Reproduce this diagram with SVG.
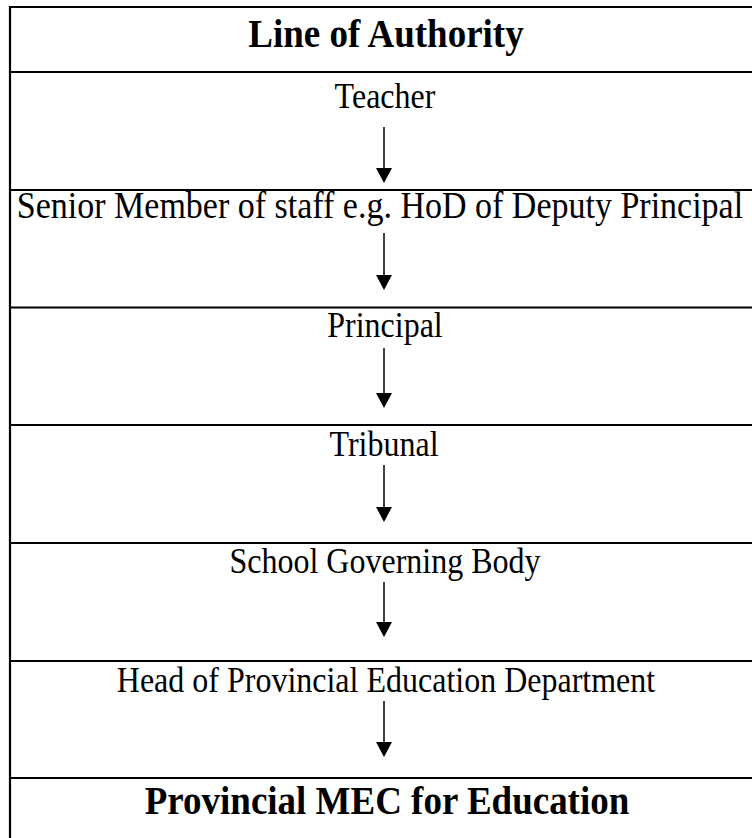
<svg xmlns="http://www.w3.org/2000/svg" width="752" height="838" viewBox="0 0 752 838">
<style>
.t{font-family:"Liberation Serif","Times New Roman",serif;font-size:32px;fill:#000;text-anchor:middle}
.b{font-weight:bold;font-size:37px}
.ln{stroke:#000;stroke-width:2.2;fill:none}
.ar{stroke:#000;stroke-width:1.5;fill:none}
</style>
<rect width="752" height="838" fill="#fff"/>
<g id="grid">
<line class="ln" x1="10" y1="7" x2="752" y2="7"/>
<line class="ln" x1="10" y1="6" x2="10" y2="838"/>
<line class="ln" x1="10" y1="72" x2="752" y2="72"/>
<line class="ln" x1="10" y1="190" x2="752" y2="190"/>
<line class="ln" x1="10" y1="307.5" x2="752" y2="307.5"/>
<line class="ln" x1="10" y1="425" x2="752" y2="425"/>
<line class="ln" x1="10" y1="543" x2="752" y2="543"/>
<line class="ln" x1="10" y1="661" x2="752" y2="661"/>
<line class="ln" x1="10" y1="778" x2="752" y2="778"/>
</g>
<g id="n0"><text class="t b" transform="translate(386,47) scale(1,1.1)">Line of Authority</text></g>
<g id="n1"><text class="t" transform="translate(385,108) scale(1,1.12)">Teacher</text></g>
<g id="n2"><text class="t" transform="translate(380,218) scale(1,1.1)" style="font-size:34px">Senior Member of staff e.g. HoD of Deputy Principal</text></g>
<g id="n3"><text class="t" transform="translate(385,337) scale(1,1.12)">Principal</text></g>
<g id="n4"><text class="t" transform="translate(384,456) scale(1,1.12)">Tribunal</text></g>
<g id="n5"><text class="t" transform="translate(385,573) scale(1,1.12)">School Governing Body</text></g>
<g id="n6"><text class="t" transform="translate(386,692) scale(1,1.12)">Head of Provincial Education Department</text></g>
<g id="n7"><text class="t b" transform="translate(387,814) scale(1,1.1)">Provincial MEC for Education</text></g>
<g id="connectors">
<path d="M384,127 V176" class="ar"/>
<path d="M384,233 V283" class="ar"/>
<path d="M384,348 V401" class="ar"/>
<path d="M384,465 V515" class="ar"/>
<path d="M384,582 V630" class="ar"/>
<path d="M384,701 V750" class="ar"/>
</g>
<g id="heads" fill="#000">
<path d="M376,168 L392,168 L384,183 Z"/>
<path d="M376,275 L392,275 L384,290 Z"/>
<path d="M376,393 L392,393 L384,408 Z"/>
<path d="M376,507 L392,507 L384,522 Z"/>
<path d="M376,622 L392,622 L384,637 Z"/>
<path d="M376,742 L392,742 L384,757 Z"/>
</g>
</svg>
